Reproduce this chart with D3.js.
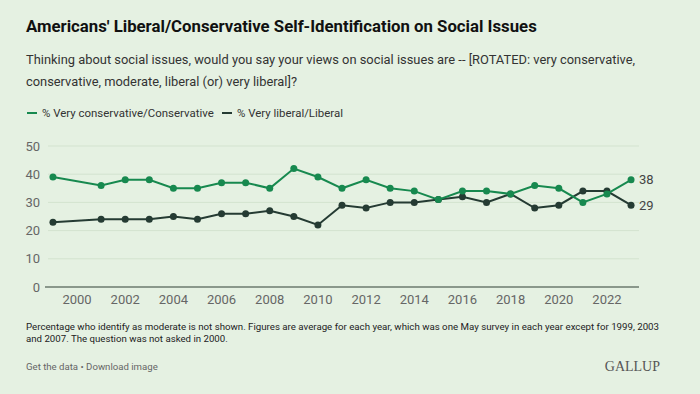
<!DOCTYPE html>
<html>
<head>
<meta charset="utf-8">
<script src="https://cdn.jsdelivr.net/npm/d3@7"></script>
<style>
  body { margin: 0; background: #e5f1e2; }
  svg { display: block; font-family: Roboto, "Noto Sans", sans-serif; }
</style>
</head>
<body>
<svg id="chart" width="700" height="394"></svg>
<script>
'use strict';

var years = [1999, 2001, 2002, 2003, 2004, 2005, 2006, 2007, 2008, 2009, 2010, 2011,
  2012, 2013, 2014, 2015, 2016, 2017, 2018, 2019, 2020, 2021, 2022, 2023];
var conservative = [39, 36, 38, 38, 35, 35, 37, 37, 35, 42, 39, 35,
  38, 35, 34, 31, 34, 34, 33, 36, 35, 30, 33, 38];
var liberal = [23, 24, 24, 24, 25, 24, 26, 26, 27, 25, 22, 29,
  28, 30, 30, 31, 32, 30, 33, 28, 29, 34, 34, 29];
var yTicks = [0, 10, 20, 30, 40, 50];
var xTicks = [2000, 2002, 2004, 2006, 2008, 2010, 2012, 2014, 2016, 2018, 2020, 2022];
var seriesNames = ['% Very conservative/Conservative', '% Very liberal/Liberal'];
var colors = ['#17894f', '#253b33'];

var svg = d3.select('#chart');

// shrink/grow font so a line of text spans the wanted width
var fitText = function (sel, target) {
  sel.each(function () {
    var node = d3.select(this);
    var size = +node.attr('font-size');
    var len = this.getComputedTextLength();
    if (len > 0) node.attr('font-size', size * target / len);
  });
};

svg.append('rect').attr('width', 700).attr('height', 394).attr('fill', '#e5f1e2');

// heading
svg.append('text')
  .attr('x', 26).attr('y', 32)
  .attr('font-size', 17).attr('font-weight', 700).attr('fill', '#111')
  .text("Americans' Liberal/Conservative Self-Identification on Social Issues")
  .call(fitText, 511);

var subLines = [
  'Thinking about social issues, would you say your views on social issues are -- [ROTATED: very conservative,',
  'conservative, moderate, liberal (or) very liberal]?'
];
var subWidths = [610, 271];
svg.append('g').selectAll('text')
  .data(subLines)
  .enter()
  .append('text')
  .attr('x', 26)
  .attr('y', function (d, i) { return 64 + i * 22; })
  .attr('font-size', 14).attr('fill', '#333')
  .text(function (d) { return d; })
  .each(function (d, i) { fitText(d3.select(this), subWidths[i]); });

// legend
var legendX = [27, 222];
var legendWidths = [172, 106];
var legend = svg.append('g').selectAll('g')
  .data(seriesNames)
  .enter()
  .append('g')
  .attr('transform', function (d, i) { return 'translate(' + legendX[i] + ',113)'; });
legend.append('line')
  .attr('x1', 0).attr('x2', 10)
  .attr('stroke', function (d, i) { return colors[i]; })
  .attr('stroke-width', 2);
legend.append('text')
  .attr('x', 15).attr('y', 4)
  .attr('font-size', 12).attr('fill', '#333')
  .text(function (d) { return d; })
  .each(function (d, i) { fitText(d3.select(this), legendWidths[i]); });

// plot
var margin = { left: 45, right: 61, top: 146, bottom: 107 };
var width = 700 - margin.left - margin.right;
var height = 394 - margin.top - margin.bottom;

var x = d3.scaleLinear().domain([1998.67, 2023.33]).range([0, width]);
var y = d3.scaleLinear().domain([0, 50]).range([height, 0]);

var g = svg.append('g').attr('transform', 'translate(' + margin.left + ',' + margin.top + ')');

g.append('g').selectAll('line')
  .data(yTicks.filter(function (d) { return d > 0; }))
  .enter()
  .append('line')
  .attr('x1', 3).attr('x2', width)
  .attr('y1', function (d) { return y(d); })
  .attr('y2', function (d) { return y(d); })
  .attr('stroke', '#d3e3cf').attr('stroke-width', 1);

g.append('line')
  .attr('x1', 0).attr('x2', width)
  .attr('y1', y(0)).attr('y2', y(0))
  .attr('stroke', '#6b7a6e').attr('stroke-width', 1.5);

g.append('g').selectAll('text')
  .data(yTicks)
  .enter()
  .append('text')
  .attr('x', -5)
  .attr('y', function (d) { return y(d) + 4.5; })
  .attr('text-anchor', 'end')
  .attr('font-size', 13).attr('fill', '#666')
  .text(function (d) { return d; });

g.append('g').selectAll('text')
  .data(xTicks)
  .enter()
  .append('text')
  .attr('x', function (d) { return x(d); })
  .attr('y', height + 17)
  .attr('text-anchor', 'middle')
  .attr('font-size', 13).attr('fill', '#666')
  .text(function (d) { return d; });

var series = [conservative, liberal];
var line = d3.line()
  .x(function (d, i) { return x(years[i]); })
  .y(function (d) { return y(d); });

// draw liberal first so conservative sits on top
[1, 0].forEach(function (s) {
  var vals = series[s];
  g.append('path')
    .attr('d', line(vals))
    .attr('fill', 'none')
    .attr('stroke', colors[s])
    .attr('stroke-width', 2);
  g.append('g').selectAll('circle')
    .data(vals)
    .enter()
    .append('circle')
    .attr('cx', function (d, i) { return x(years[i]); })
    .attr('cy', function (d) { return y(d); })
    .attr('r', 3.5)
    .attr('fill', colors[s]);
  g.append('text')
    .attr('x', x(years[years.length - 1]) + 8)
    .attr('y', y(vals[vals.length - 1]) + 4.5)
    .attr('font-size', 13).attr('fill', '#444')
    .text(vals[vals.length - 1]);
});

// notes
var notes = [
  'Percentage who identify as moderate is not shown. Figures are average for each year, which was one May survey in each year except for 1999, 2003',
  'and 2007. The question was not asked in 2000.'
];
var noteWidths = [634, 202];
svg.append('g').selectAll('text')
  .data(notes)
  .enter()
  .append('text')
  .attr('x', 26)
  .attr('y', function (d, i) { return 330 + i * 12; })
  .attr('font-size', 10).attr('fill', '#222')
  .text(function (d) { return d; })
  .each(function (d, i) { fitText(d3.select(this), noteWidths[i]); });

svg.append('text')
  .attr('x', 26).attr('y', 370)
  .attr('font-size', 10).attr('fill', '#666')
  .text('Get the data \u2022 Download image')
  .call(fitText, 132);

svg.append('text')
  .attr('x', 660).attr('y', 371)
  .attr('text-anchor', 'end')
  .attr('font-family', '"Liberation Serif", "DejaVu Serif", serif')
  .attr('font-size', 14).attr('fill', '#555')
  .text('GALLUP');
</script>
</body>
</html>
